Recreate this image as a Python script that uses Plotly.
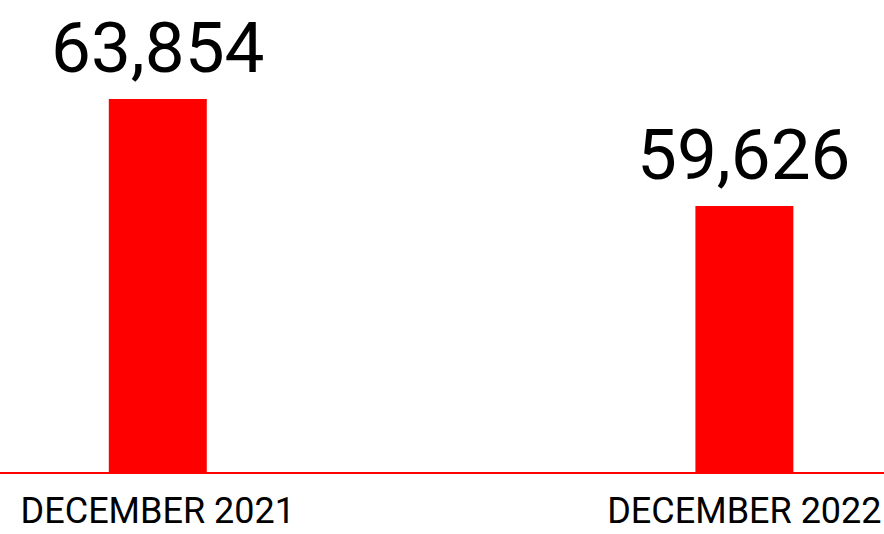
import plotly.graph_objects as go

categories = ["DECEMBER 2021", "DECEMBER 2022"]
values = [63854, 59626]
value_labels = ["63,854", "59,626"]

RED = "#FF0000"

fig = go.Figure()
fig.add_trace(go.Bar(
    x=categories, y=values, marker=dict(color=RED, line=dict(width=0)),
    width=0.167, hoverinfo="skip",
))

for c, v, t in zip(categories, values, value_labels):
    fig.add_annotation(x=c, y=v, text=t, showarrow=False, yanchor="bottom",
                       yshift=8, font=dict(family="Roboto", size=71, color="#000000"))

fig.update_layout(
    width=884, height=534,
    margin=dict(l=0, r=0, t=0, b=62),
    paper_bgcolor="white", plot_bgcolor="white",
    showlegend=False,
    xaxis=dict(
        type="category", range=[-0.269, 1.238], automargin=False,
        showline=True, linecolor=RED, linewidth=2,
        showgrid=False, ticks="", ticklabelstandoff=6,
        tickfont=dict(family="Roboto", size=36, color="#000000"),
    ),
    yaxis=dict(range=[49116, 67765], visible=False, showgrid=False,
               zeroline=False, automargin=False),
)

fig.write_html("out.html", config={"displayModeBar": False},
               post_script="document.body.style.margin='0';document.body.style.overflow='hidden';")
